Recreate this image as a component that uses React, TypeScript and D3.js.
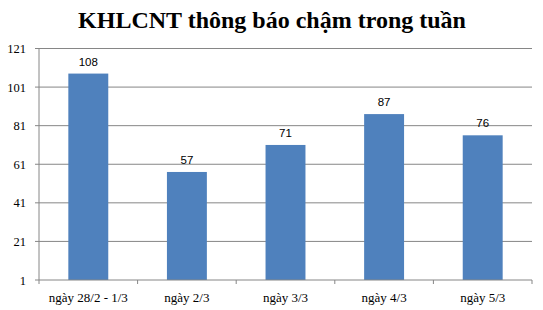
import React from "react";
import * as d3 from "d3";

const categories = ["ngày 28/2 - 1/3", "ngày 2/3", "ngày 3/3", "ngày 4/3", "ngày 5/3"];
const values = [108, 57, 71, 87, 76];
const yTicks = [1, 21, 41, 61, 81, 101, 121];
const title = "KHLCNT thông báo chậm trong tuần";

export default function App() {
  const W = 543, H = 310;
  const left = 39, right = 532, top = 48.5, bottom = 280;
  const x = d3.scaleBand<string>().domain(categories).range([left, right]).paddingInner(0.595).paddingOuter(0.2975);
  const y = d3.scaleLinear().domain([1, 121]).range([bottom, top]);
  const step = (right - left) / categories.length;
  return (
    <svg width={W} height={H} style={{ position: "absolute", left: 0, top: 0 }}>
      <rect width={W} height={H} fill="#fff" />
      <text x={272} y={28} textAnchor="middle" fontFamily="Liberation Serif, Times New Roman, serif" fontWeight="bold" fontSize={24} fill="#000">{title}</text>
      {yTicks.map((t) => (
        <g key={t}>
          {t !== 1 && <line x1={left} x2={right} y1={y(t)} y2={y(t)} stroke="#868686" strokeWidth={1} />}
          <line x1={left - 4} x2={left} y1={y(t)} y2={y(t)} stroke="#868686" />
          <text x={26} y={y(t) + 4.5} textAnchor="end" fontFamily="Liberation Serif, Times New Roman, serif" fontSize={12.5} fill="#000">{t}</text>
        </g>
      ))}
      {categories.map((c, i) => (
        <g key={c}>
          <rect x={x(c)} y={y(values[i])} width={x.bandwidth()} height={bottom - y(values[i])} fill="#4F81BD" />
          <text x={(x(c) as number) + x.bandwidth() / 2} y={y(values[i]) - 8} textAnchor="middle" fontFamily="Liberation Sans, Arial, sans-serif" fontSize={11.5} fill="#000">{values[i]}</text>
          <text x={left + step * (i + 0.5)} y={302} textAnchor="middle" fontFamily="Liberation Serif, Times New Roman, serif" fontSize={13} fill="#000">{c}</text>
        </g>
      ))}
      {d3.range(categories.length + 1).map((i) => (
        <line key={i} x1={left + step * i} x2={left + step * i} y1={bottom} y2={bottom + 4} stroke="#868686" />
      ))}
      <line x1={left} x2={left} y1={top} y2={bottom} stroke="#868686" />
      <line x1={left} x2={right} y1={bottom} y2={bottom} stroke="#868686" />
    </svg>
  );
}
